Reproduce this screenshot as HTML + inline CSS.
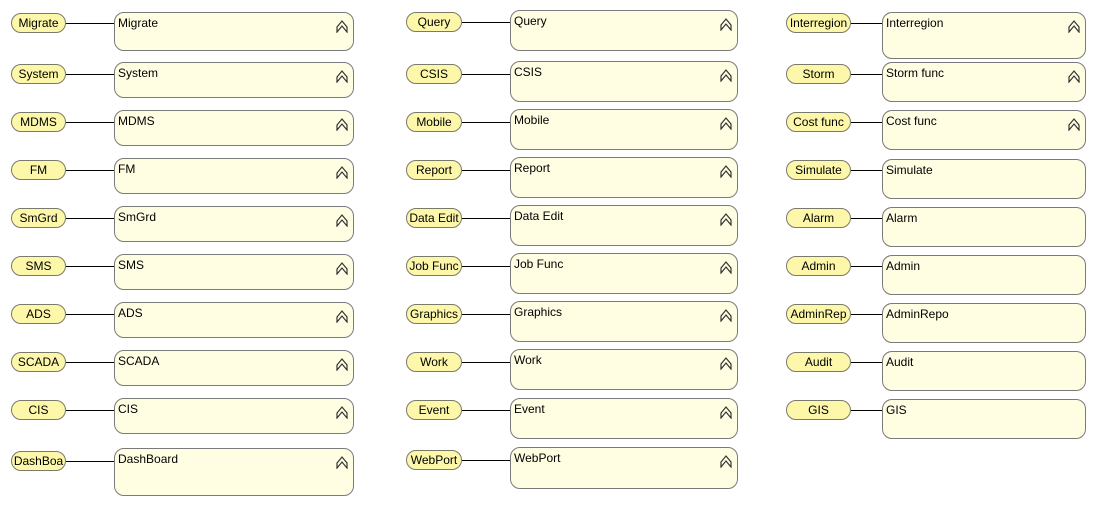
<!DOCTYPE html>
<html><head><meta charset="utf-8"><style>
body{margin:0;width:1096px;height:507px;background:#fff;position:relative;overflow:hidden;font-family:"Liberation Sans",Tahoma,sans-serif;font-size:12px;color:#000}
.p{position:absolute;height:20px;border:1px solid #7a7a6a;border-radius:10px;background:#fdf7a9;text-align:center;line-height:19px;box-sizing:border-box;white-space:nowrap;overflow:hidden}
.b{position:absolute;border:1px solid #7a7a7a;border-radius:10px;background:#fffee2;box-sizing:border-box;padding:3px 0 0 3px}
.l{position:absolute;height:1px;background:#000}
.b svg{position:absolute;right:5px;top:6px}
</style></head><body>
<script>
var cols=[
 {px:11,pw:55,bx:114,bw:240,rows:[
 ["Migrate","Migrate",12,51,23,1],["System","System",62,98,74,1],["MDMS","MDMS",110,146,122,1],["FM","FM",158,194,170,1],["SmGrd","SmGrd",206,242,218,1],["SMS","SMS",254,290,266,1],["ADS","ADS",302,338,314,1],["SCADA","SCADA",350,386,362,1],["CIS","CIS",398,434,410,1],["DashBoa","DashBoard",448,496,461,1]]},
 {px:406,pw:56,bx:510,bw:228,rows:[
 ["Query","Query",10,51,22,1],["CSIS","CSIS",61,102,74,1],["Mobile","Mobile",109,150,122,1],["Report","Report",157,198,170,1],["Data Edit","Data Edit",205,246,218,1],["Job Func","Job Func",253,294,266,1],["Graphics","Graphics",301,342,314,1],["Work","Work",349,390,362,1],["Event","Event",398,439,410,1],["WebPort","WebPort",447,489,460,1]]},
 {px:786,pw:65,bx:882,bw:204,rows:[
 ["Interregion","Interregion",12,59,23,1],["Storm","Storm func",62,102,74,1],["Cost func","Cost func",110,150,122,1],["Simulate","Simulate",159,199,170,0],["Alarm","Alarm",207,247,218,0],["Admin","Admin",255,295,266,0],["AdminRep","AdminRepo",303,343,314,0],["Audit","Audit",351,391,362,0],["GIS","GIS",399,439,410,0]]}];
var h='';
var ic='<svg width="12" height="14" viewBox="0 0 12 14"><path d="M1 8 L6 2 L11 8 L11 13 L6 7 L1 13 Z" fill="none" stroke="#333" stroke-width="1.2"/></svg>';
cols.forEach(function(c){c.rows.forEach(function(r){
 h+='<div class="p" style="left:'+c.px+'px;top:'+(r[4]-10)+'px;width:'+c.pw+'px">'+r[0]+'</div>';
 h+='<div class="l" style="left:'+(c.px+c.pw)+'px;top:'+r[4]+'px;width:'+(c.bx-c.px-c.pw)+'px"></div>';
 h+='<div class="b" style="left:'+c.bx+'px;top:'+r[2]+'px;width:'+c.bw+'px;height:'+(r[3]-r[2])+'px">'+r[1]+(r[5]?ic:'')+'</div>';
});});
document.write(h);
</script>
</body></html>
